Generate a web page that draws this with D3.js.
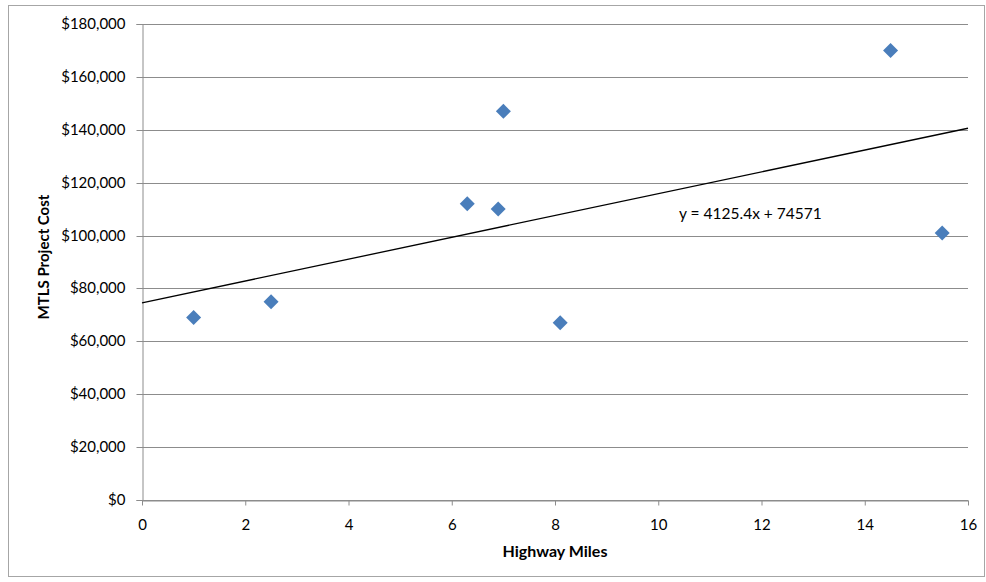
<!DOCTYPE html>
<html>
<head>
<meta charset="utf-8">
<script src="https://cdn.jsdelivr.net/npm/d3@7"></script>
<style>
  body { margin: 0; background: #fff; }
  text { font-family: Lato, "Open Sans", "Liberation Sans", sans-serif; fill: #000; }
</style>
</head>
<body>
<div id="chart"></div>
<script>
// data
const miles = [1, 2.5, 6.3, 6.9, 7.0, 8.1, 14.5, 15.5];
const cost = [69000, 75000, 112000, 110000, 147000, 67000, 170000, 101000];
const xTicks = [0, 2, 4, 6, 8, 10, 12, 14, 16];
const yTicks = [0, 20000, 40000, 60000, 80000, 100000, 120000, 140000, 160000, 180000];
const slope = 4125.4, intercept = 74571;

const W = 986, H = 582;
const margin = {top: 24, right: 18, bottom: 82, left: 142};

const svg = d3.select("#chart")
  .append("svg")
  .attr("width", W)
  .attr("height", H);

// outer chart border
svg.append("rect")
  .attr("x", 8.5).attr("y", 5.5)
  .attr("width", W - 10).attr("height", H - 11)
  .attr("fill", "none")
  .attr("stroke", "#a6a6a6");

const x = d3.scaleLinear().domain([0, 16]).range([margin.left, W - margin.right]);
const y = d3.scaleLinear().domain([0, 180000]).range([H - margin.bottom, margin.top]);

// gridlines
svg.append("g")
  .selectAll("line")
  .data(yTicks)
  .join("line")
  .attr("x1", x(0)).attr("x2", x(16))
  .attr("y1", d => Math.round(y(d)) + 0.5)
  .attr("y2", d => Math.round(y(d)) + 0.5)
  .attr("stroke", "#8c8c8c");

// y axis
const yAxis = svg.append("g")
  .attr("transform", `translate(${Math.round(x(0)) + 0.5},0)`)
  .call(d3.axisLeft(y).tickValues(yTicks).tickSize(6).tickPadding(11)
    .tickFormat(d => "$" + d3.format(",")(d)));
yAxis.selectAll("line, path").attr("stroke", "#8c8c8c");
yAxis.selectAll("text").style("font-size", "15px");
yAxis.selectAll(".tick").attr("transform", d => `translate(0,${Math.round(y(d)) + 0.5})`);

// x axis
const xAxis = svg.append("g")
  .attr("transform", `translate(0,${Math.round(y(0)) + 0.5})`)
  .call(d3.axisBottom(x).tickValues(xTicks).tickSize(5).tickSizeOuter(0).tickPadding(14));
xAxis.selectAll("line, path").attr("stroke", "#8c8c8c");
xAxis.selectAll("text").style("font-size", "15px");

// trendline
svg.append("line")
  .attr("x1", x(0)).attr("y1", y(intercept))
  .attr("x2", x(16)).attr("y2", y(intercept + slope * 16))
  .attr("stroke", "#000")
  .attr("stroke-width", 1.3);

svg.append("text")
  .attr("x", 679).attr("y", 219)
  .style("font-size", "15.5px")
  .text(`y = ${slope}x + ${intercept}`);

// points
const pts = miles.map((m, i) => ({m: m, c: cost[i]}));
svg.append("g")
  .selectAll("path")
  .data(pts)
  .join("path")
  .attr("transform", d => `translate(${x(d.m)},${y(d.c)})`)
  .attr("d", "M0,-7.5L7.5,0L0,7.5L-7.5,0Z")
  .attr("fill", "#4a7ebb");

// axis titles
svg.append("text")
  .attr("x", (x(0) + x(16)) / 2).attr("y", 557)
  .attr("text-anchor", "middle")
  .style("font-size", "16px").style("font-weight", "bold")
  .text("Highway Miles");

svg.append("text")
  .attr("transform", "translate(49,257) rotate(-90)")
  .attr("text-anchor", "middle")
  .style("font-size", "15px").style("font-weight", "bold")
  .text("MTLS Project Cost");
</script>
</body>
</html>
